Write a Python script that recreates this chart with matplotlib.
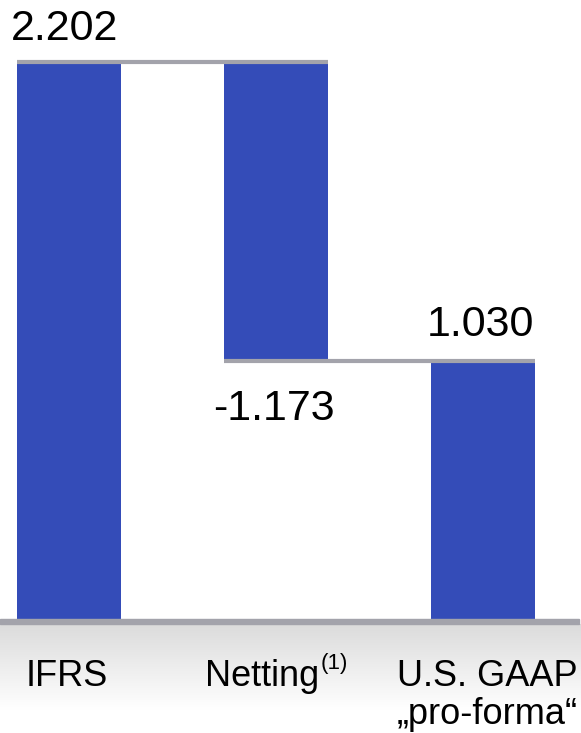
import numpy as np
import matplotlib
matplotlib.use("Agg")
import matplotlib.pyplot as plt
import matplotlib.transforms as mtransforms
from matplotlib.patches import Rectangle

plt.rcParams['font.family'] = ['Liberation Sans', 'DejaVu Sans']

categories = ["IFRS", "Netting", "U.S. GAAP"]
values = [2202, -1173, 1030]
value_labels = ["2.202", "-1.173", "1.030"]

bar_color = "#344cb8"
line_color = "#a3a3ab"

W, H = 581, 733
fig = plt.figure(figsize=(W / 100, H / 100), dpi=100)

# gradient band below baseline (drawn first, underneath)
gax = fig.add_axes([0, (H - 710) / H, 1, (710 - 624) / H])
grad = np.linspace(0.86, 1.0, 100).reshape(-1, 1)
gax.imshow(np.dstack([grad, grad, grad]), aspect="auto", extent=[0, 1, 0, 1])
gax.axis("off")
gax.set_zorder(0)

# main axes: bottom at baseline (y=619 px), top at figure top
base_px = 619
ax = fig.add_axes([0, (H - base_px) / H, 1, base_px / H])
ax.set_zorder(2)
scale = 555 / 2202  # px per unit
ax.set_ylim(0, base_px / scale)
ax.set_xlim(-69 / 207, (W - 69) / 207)
ax.axis("off")

# waterfall bars
x = np.arange(len(values))
bottoms = [0, values[0] + values[1], 0]
heights = [values[0], -values[1], values[2]]
ax.bar(x, heights, bottom=bottoms, width=0.502, color=bar_color, zorder=2)

# connector lines
ax.plot([x[0] - 0.251, x[1] + 0.251], [values[0] + 8, values[0] + 8],
        color=line_color, lw=3, zorder=3, solid_capstyle="butt")
lvl = values[0] + values[1]
ax.plot([x[1] - 0.251, x[2] + 0.251], [lvl - 6, lvl - 6],
        color=line_color, lw=3, zorder=3, solid_capstyle="butt")

# value labels
ax.text(x[0] - 0.02, values[0] + 139, value_labels[0], ha="center", va="center", fontsize=31)
ax.text(x[1] - 0.01, lvl - 196, value_labels[1], ha="center", va="center", fontsize=31)
ax.text(x[2] - 0.01, values[2] + 136, value_labels[2], ha="center", va="center", fontsize=31)

# baseline
fig.patches.append(Rectangle((0, (H - 624) / H), 0.997, 5 / H, transform=fig.transFigure,
                             color=line_color, zorder=5))

# category labels
trans = mtransforms.blended_transform_factory(ax.transData, fig.transFigure)
ax.text(x[0] - 0.01, (H - 686) / H, categories[0], ha="center", va="baseline",
        fontsize=26, transform=trans, clip_on=False)
t = ax.text(x[1] + 0.21, (H - 686) / H, categories[1], ha="right", va="baseline",
            fontsize=26, transform=trans, clip_on=False)
ax.annotate("(1)", xy=(1, 1), xycoords=t, xytext=(1, 4), textcoords="offset points",
            ha="left", va="top", fontsize=16)
ax.text(x[2] + 0.02, (H - 686) / H, categories[2], ha="center", va="baseline",
        fontsize=26, transform=trans, clip_on=False)
ax.text(x[2] + 0.02, (H - 724) / H, "\u201epro-forma\u201c", ha="center", va="baseline",
        fontsize=26, transform=trans, clip_on=False)

fig.savefig("out.png", dpi=100)
